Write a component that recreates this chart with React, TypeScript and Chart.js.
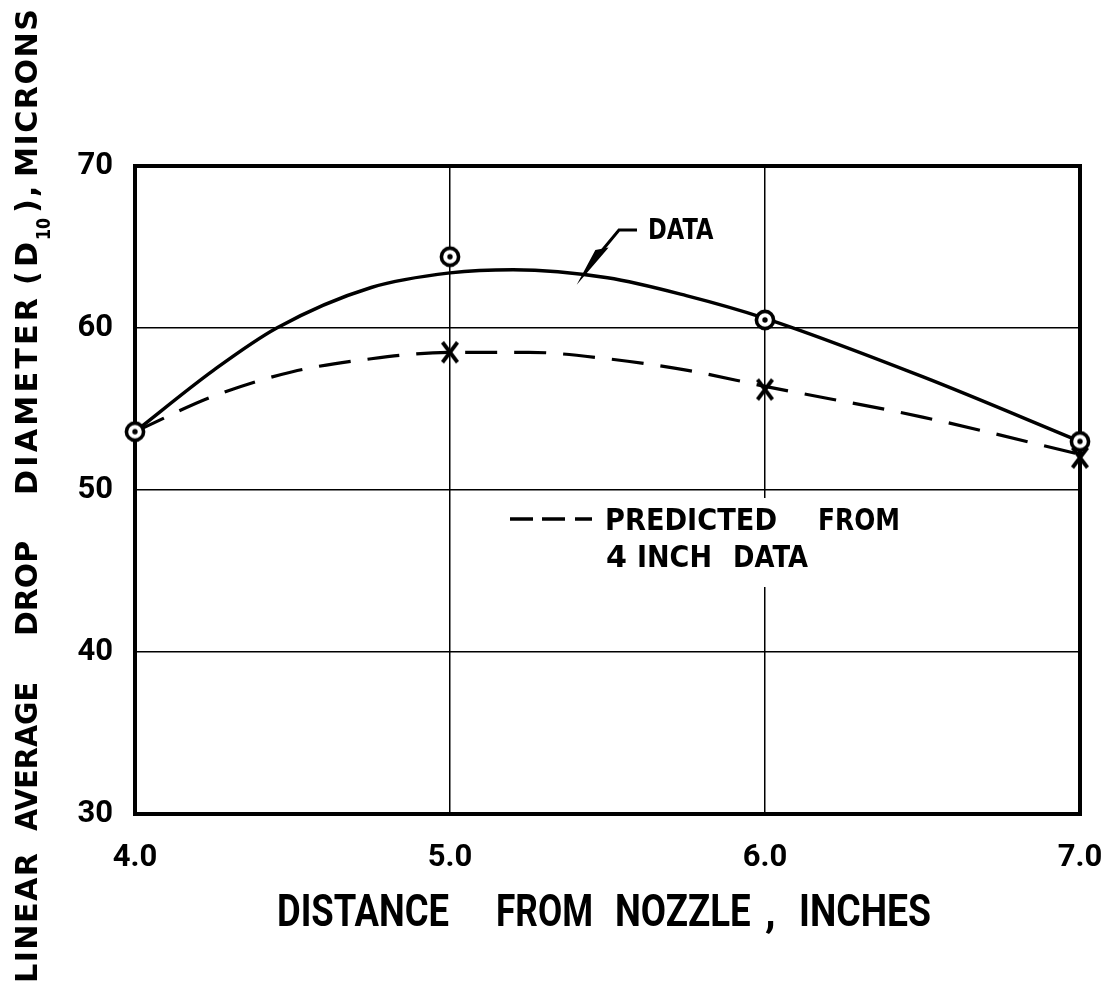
import React, { useEffect, useRef } from "react";
import { Chart, registerables } from "chart.js";

Chart.register(...registerables);

// ---- data ----
const xTickValues = [4.0, 5.0, 6.0, 7.0];
const yTickValues = [30, 40, 50, 60, 70];

const measuredX = [4.0, 5.0, 6.0, 7.0];
const measuredY = [53.6, 64.4, 60.5, 53.0];

const predictedX = [5.0, 6.0, 7.0];
const predictedY = [58.5, 56.2, 52.0];

const dataCurveX = [4.0, 4.25, 4.45, 4.75, 5.0, 5.2, 5.5, 5.75, 6.0, 6.5, 7.0];
const dataCurveY = [53.6, 57.4, 60.0, 62.5, 63.4, 63.6, 63.1, 62.0, 60.6, 57.0, 53.0];

const predCurveX = [4.0, 4.25, 4.5, 4.75, 5.0, 5.25, 5.5, 5.75, 6.0, 6.5, 7.0];
const predCurveY = [53.6, 55.8, 57.3, 58.1, 58.5, 58.5, 58.1, 57.4, 56.4, 54.5, 52.2];

const FONT = "Roboto";
const FONT_WIDE = "'DejaVu Sans'";

function drawFit(
  ctx: CanvasRenderingContext2D,
  text: string,
  x0: number,
  x1: number,
  baseline: number,
  capH: number,
  family: string = FONT,
  capRatio: number = 0.711
) {
  const size = capH / capRatio;
  ctx.font = `bold ${size}px ${family}`;
  ctx.textAlign = "left";
  ctx.textBaseline = "alphabetic";
  const chars = Array.from(text);
  const widths = chars.map((c) => ctx.measureText(c).width);
  const natural = widths.reduce((a, b) => a + b, 0);
  const target = x1 - x0;
  if (chars.length < 2) {
    ctx.fillText(text, x0, baseline);
  } else if (natural >= target) {
    ctx.save();
    ctx.translate(x0, baseline);
    ctx.scale(target / natural, 1);
    ctx.fillText(text, 0, 0);
    ctx.restore();
  } else {
    const gap = (target - natural) / (chars.length - 1);
    let x = x0;
    chars.forEach((c, i) => {
      ctx.fillText(c, x, baseline);
      x += widths[i] + gap;
    });
  }
}

function makeCircleMarker(): HTMLCanvasElement {
  const c = document.createElement("canvas");
  c.width = 28;
  c.height = 28;
  const g = c.getContext("2d")!;
  g.beginPath();
  g.arc(14, 14, 8.6, 0, Math.PI * 2);
  g.fillStyle = "#fff";
  g.fill();
  g.lineWidth = 3.6;
  g.strokeStyle = "#000";
  g.stroke();
  g.beginPath();
  g.arc(14, 14, 2.7, 0, Math.PI * 2);
  g.fillStyle = "#000";
  g.fill();
  return c;
}

function makeXMarker(): HTMLCanvasElement {
  const c = document.createElement("canvas");
  c.width = 24;
  c.height = 28;
  const g = c.getContext("2d")!;
  g.strokeStyle = "#000";
  g.lineWidth = 3.8;
  g.beginPath();
  g.moveTo(4.5, 4);
  g.lineTo(19.5, 24);
  g.moveTo(19.5, 4);
  g.lineTo(4.5, 24);
  g.stroke();
  return c;
}

const decorPlugin = {
  id: "decor",
  beforeDatasetsDraw(chart: any) {
    const ctx: CanvasRenderingContext2D = chart.ctx;
    const a = chart.chartArea;
    ctx.save();
    // white patch behind the legend text (interrupts the grid line)
    ctx.fillStyle = "#fff";
    ctx.fillRect(500, 498, 410, 89);
    // heavy frame
    ctx.strokeStyle = "#000";
    ctx.lineWidth = 4;
    ctx.strokeRect(a.left, a.top, a.right - a.left, a.bottom - a.top);
    ctx.restore();
  },
  afterDraw(chart: any) {
    const ctx: CanvasRenderingContext2D = chart.ctx;
    ctx.save();
    ctx.fillStyle = "#000";
    ctx.strokeStyle = "#000";

    // ---- y axis title (rotated) ----
    ctx.save();
    ctx.translate(37, 0);
    ctx.rotate(-Math.PI / 2);
    const yParts: [string, number, number][] = [
      ["LINEAR", 983, 853],
      ["AVERAGE", 831, 680],
      ["DROP", 636, 541],
      ["DIAMETER", 495, 298],
      ["(", 285, 271],
      ["D", 267, 242],
      [")", 213, 202],
      [",", 197, 190],
      ["MICRONS", 177, 9],
    ];
    yParts.forEach(([t, b, tp]) => drawFit(ctx, t, -b, -tp, 0, 22, FONT_WIDE, 0.729));
    drawFit(ctx, "10", -240, -218, 13, 14, FONT_WIDE, 0.729);
    ctx.restore();

    // ---- x axis title ----
    const xParts: [string, number, number][] = [
      ["DISTANCE", 277, 451],
      ["FROM", 496, 593],
      ["NOZZLE", 615, 751],
      [",", 765, 775],
      ["INCHES", 799, 931],
    ];
    xParts.forEach(([t, l, r]) => drawFit(ctx, t, l, r, 926, 31));

    // ---- DATA annotation with leader and arrow ----
    drawFit(ctx, "DATA", 648, 717, 239, 21, FONT_WIDE, 0.729);
    ctx.lineWidth = 3;
    ctx.lineCap = "butt";
    ctx.beginPath();
    ctx.moveTo(637, 230);
    ctx.lineTo(619, 230);
    ctx.lineTo(600, 253);
    ctx.stroke();
    ctx.beginPath();
    ctx.moveTo(606, 249);
    ctx.lineTo(582, 277);
    ctx.lineTo(596, 251);
    ctx.closePath();
    ctx.fill();
    ctx.lineWidth = 2;
    ctx.stroke();

    // ---- legend for predicted ----
    ctx.lineWidth = 3.5;
    [[510, 533], [542, 565], [575, 592]].forEach(([l, r]) => {
      ctx.beginPath();
      ctx.moveTo(l, 519);
      ctx.lineTo(r, 519);
      ctx.stroke();
    });
    drawFit(ctx, "PREDICTED", 605, 777, 530, 22, FONT_WIDE, 0.729);
    drawFit(ctx, "FROM", 818, 900, 530, 22, FONT_WIDE, 0.729);
    drawFit(ctx, "4", 606, 622, 567, 22, FONT_WIDE, 0.729);
    drawFit(ctx, "INCH", 637, 712, 567, 22, FONT_WIDE, 0.729);
    drawFit(ctx, "DATA", 733, 812, 567, 22, FONT_WIDE, 0.729);

    ctx.restore();
  },
};

export default function App() {
  const ref = useRef<HTMLCanvasElement | null>(null);

  useEffect(() => {
    if (!ref.current) return;
    const circle = makeCircleMarker();
    const cross = makeXMarker();
    const tickFont = { family: FONT, size: 31, weight: "bold" as const };

    const chart = new Chart(ref.current, {
      type: "scatter",
      data: {
        datasets: [
          {
            label: "Data points",
            data: measuredX.map((x, i) => ({ x, y: measuredY[i] })),
            showLine: false,
            pointStyle: circle as any,
            pointRadius: 10,
            clip: false,
            order: 0,
          },
          {
            label: "Predicted points",
            data: predictedX.map((x, i) => ({ x, y: predictedY[i] })),
            showLine: false,
            pointStyle: cross as any,
            pointRadius: 10,
            clip: false,
            order: 1,
          },
          {
            label: "Data curve",
            data: dataCurveX.map((x, i) => ({ x, y: dataCurveY[i] })),
            showLine: true,
            borderColor: "#000",
            borderWidth: 3.4,
            pointRadius: 0,
            cubicInterpolationMode: "monotone",
            order: 3,
          },
          {
            label: "Predicted curve",
            data: predCurveX.map((x, i) => ({ x, y: predCurveY[i] })),
            showLine: true,
            borderColor: "#000",
            borderWidth: 3.2,
            borderDash: [32, 17],
            pointRadius: 0,
            cubicInterpolationMode: "monotone",
            order: 2,
          },
        ],
      },
      options: {
        animation: false,
        responsive: true,
        maintainAspectRatio: false,
        layout: { padding: { top: 166, right: 30, left: 0, bottom: 0 } },
        plugins: {
          legend: { display: false },
          tooltip: { enabled: false },
        },
        scales: {
          x: {
            type: "linear",
            min: 4,
            max: 7,
            afterBuildTicks: (s: any) => {
              s.ticks = xTickValues.map((v) => ({ value: v }));
            },
            afterFit: (s: any) => {
              s.height = 177;
              s.paddingLeft = 0;
              s.paddingRight = 0;
            },
            grid: { color: "#000", lineWidth: 1.5, drawTicks: false },
            border: { display: false },
            ticks: {
              color: "#000",
              font: tickFont,
              padding: 26,
              callback: (v: any) => Number(v).toFixed(1),
            },
          },
          y: {
            type: "linear",
            min: 30,
            max: 70,
            afterBuildTicks: (s: any) => {
              s.ticks = yTickValues.map((v) => ({ value: v }));
            },
            afterFit: (s: any) => {
              s.width = 135;
              s.paddingTop = 0;
              s.paddingBottom = 0;
            },
            grid: { color: "#000", lineWidth: 1.5, drawTicks: false },
            border: { display: false },
            ticks: {
              color: "#000",
              font: tickFont,
              padding: 22,
              callback: (v: any) => String(v),
            },
          },
        },
      },
      plugins: [decorPlugin],
    });
    return () => chart.destroy();
  }, []);

  return (
    <div style={{ position: "absolute", left: 0, top: 0, width: 1110, height: 991, background: "#fff" }}>
      <canvas ref={ref} />
    </div>
  );
}
